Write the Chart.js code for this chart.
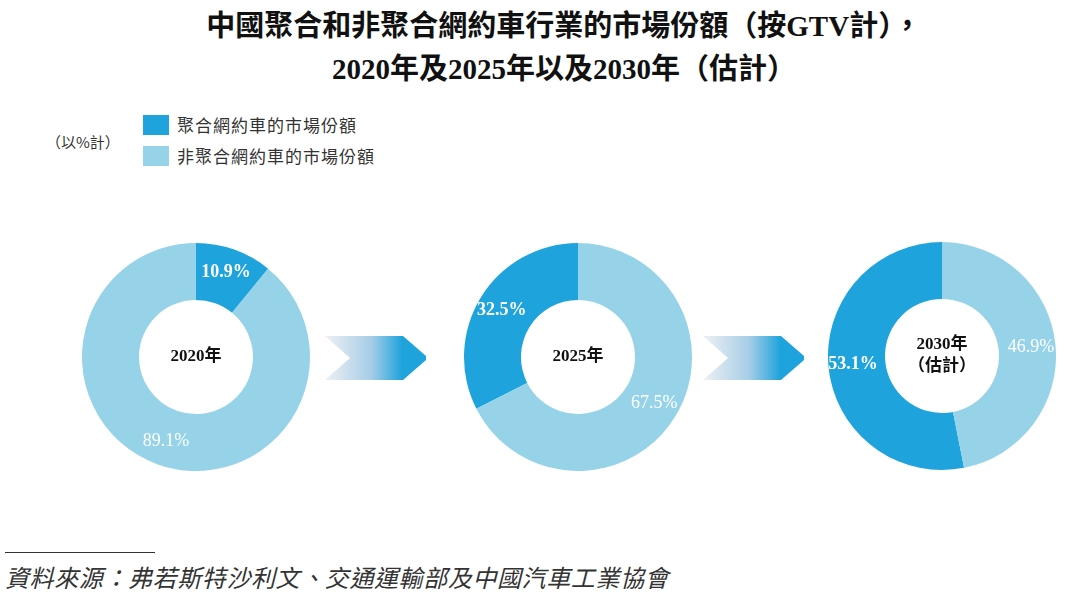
<!DOCTYPE html>
<html>
<head>
<meta charset="utf-8">
<script src="https://cdn.jsdelivr.net/npm/chart.js@4.4.1/dist/chart.umd.min.js"></script>
<style>
    body { margin: 0; background: #fff; }
    #page { position: relative; width: 1080px; height: 597px; overflow: hidden; font-family: "Liberation Serif", "Noto Sans CJK TC", serif; }
    .title { position: absolute; left: 24px; top: 5px; width: 1080px; text-align: center; font-size: 29px; font-weight: bold; line-height: 43px; color: #111; }
    .unit { position: absolute; left: 46px; top: 131px; font-size: 15px; color: #333; font-family: "Noto Sans CJK TC", sans-serif; }
    .legend { position: absolute; left: 143px; font-size: 17px; letter-spacing: 1px; color: #333; font-family: "Noto Sans CJK TC", sans-serif; line-height: 20px; }
    .legend span.box { display: inline-block; width: 26px; height: 20px; vertical-align: top; margin-right: 8px; }
    .donut { position: absolute; width: 228px; height: 228px; }
    .arrow { position: absolute; top: 336px; width: 103px; height: 44px;
             clip-path: polygon(0 0, 78px 0, 101px 20px, 101px 24px, 78px 44px, 0 44px, 25px 22px);
             background: linear-gradient(to right, #eef0f5 0%, #a6cde6 45%, #1fa3dc 75%); }
    .src-line { position: absolute; left: 5px; top: 552px; width: 150px; height: 1px; background: #333; }
    .source { position: absolute; left: 5px; top: 561px; font-size: 24px; letter-spacing: 0.6px; font-style: italic; color: #333; font-family: "Noto Sans CJK TC", sans-serif; line-height: 32px; }
</style>
</head>
<body>
<div id="page">
    <div class="title">中國聚合和非聚合網約車行業的市場份額（按GTV計），<br>2020年及2025年以及2030年（估計）</div>
    <div class="unit">（以%計）</div>
    <div id="legend"></div>
    <div class="arrow" style="left:325px"></div>
    <div class="arrow" style="left:703px"></div>
    <div class="donut" style="left:82px; top:243px"><canvas id="donut0"></canvas></div>
    <div class="donut" style="left:464px; top:243px"><canvas id="donut1"></canvas></div>
    <div class="donut" style="left:828px; top:242px"><canvas id="donut2"></canvas></div>
    <div class="src-line"></div>
    <div class="source">資料來源：弗若斯特沙利文、交通運輸部及中國汽車工業協會</div>
</div>
<script>
    const years = [['2020年'], ['2025年'], ['2030年', '（估計）']];
    const seriesNames = ['聚合網約車的市場份額', '非聚合網約車的市場份額'];
    const aggregated = [10.9, 32.5, 53.1];
    const nonAggregated = [89.1, 67.5, 46.9];
    const colors = ['#1fa3dc', '#96d3e8'];

    // legend
    const $legend = document.getElementById('legend');
    seriesNames.forEach((name, i) => {
        const row = document.createElement('div');
        row.className = 'legend';
        row.style.top = (115 + i * 31) + 'px';
        row.innerHTML = `<span class="box" style="background:${colors[i]}"></span>${name}`;
        $legend.appendChild(row);
    });

    const sliceLabels = {
        id: 'sliceLabels',
        afterDatasetsDraw(chart) {
            const ctx = chart.ctx;
            const meta = chart.getDatasetMeta(0);
            const values = chart.data.datasets[0].data;
            meta.data.forEach((arc, i) => {
                const p = arc.getProps(['x', 'y', 'startAngle', 'endAngle', 'innerRadius', 'outerRadius'], true);
                const mid = (p.startAngle + p.endAngle) / 2;
                const r = (p.innerRadius + p.outerRadius) / 2 + 4;
                ctx.save();
                ctx.fillStyle = '#fff';
                ctx.font = (i === 0 ? 'bold ' : '') + '18px "Liberation Serif"';
                ctx.textAlign = 'center';
                ctx.textBaseline = 'middle';
                ctx.fillText(values[i].toFixed(1) + '%', p.x + Math.cos(mid) * r, p.y + Math.sin(mid) * r);
                ctx.restore();
            });
        }
    };

    const centerText = {
        id: 'centerText',
        afterDraw(chart) {
            const lines = chart.options.plugins.centerText.lines;
            const arc = chart.getDatasetMeta(0).data[0];
            const ctx = chart.ctx;
            ctx.save();
            ctx.fillStyle = '#111';
            ctx.font = 'bold 17px "Liberation Serif", "Noto Sans CJK TC"';
            ctx.textAlign = 'center';
            ctx.textBaseline = 'middle';
            const lh = 22;
            lines.forEach((t, k) => {
                ctx.fillText(t, arc.x, arc.y + (k - (lines.length - 1) / 2) * lh);
            });
            ctx.restore();
        }
    };

    function renderDonut(i) {
        const ctx = document.getElementById('donut' + i).getContext('2d');
        new Chart(ctx, {
            type: 'doughnut',
            data: {
                labels: seriesNames,
                datasets: [{
                    data: [aggregated[i], nonAggregated[i]],
                    backgroundColor: colors,
                    borderWidth: 0
                }]
            },
            options: {
                responsive: true,
                maintainAspectRatio: false,
                animation: false,
                events: [],
                cutout: '50%',
                rotation: i === 0 ? 0 : -aggregated[i] * 3.6,
                layout: { padding: 0 },
                plugins: {
                    legend: { display: false },
                    tooltip: { enabled: false },
                    centerText: { lines: years[i] }
                }
            },
            plugins: [sliceLabels, centerText]
        });
    }

    [0, 1, 2].forEach(renderDonut);
</script>
</body>
</html>
